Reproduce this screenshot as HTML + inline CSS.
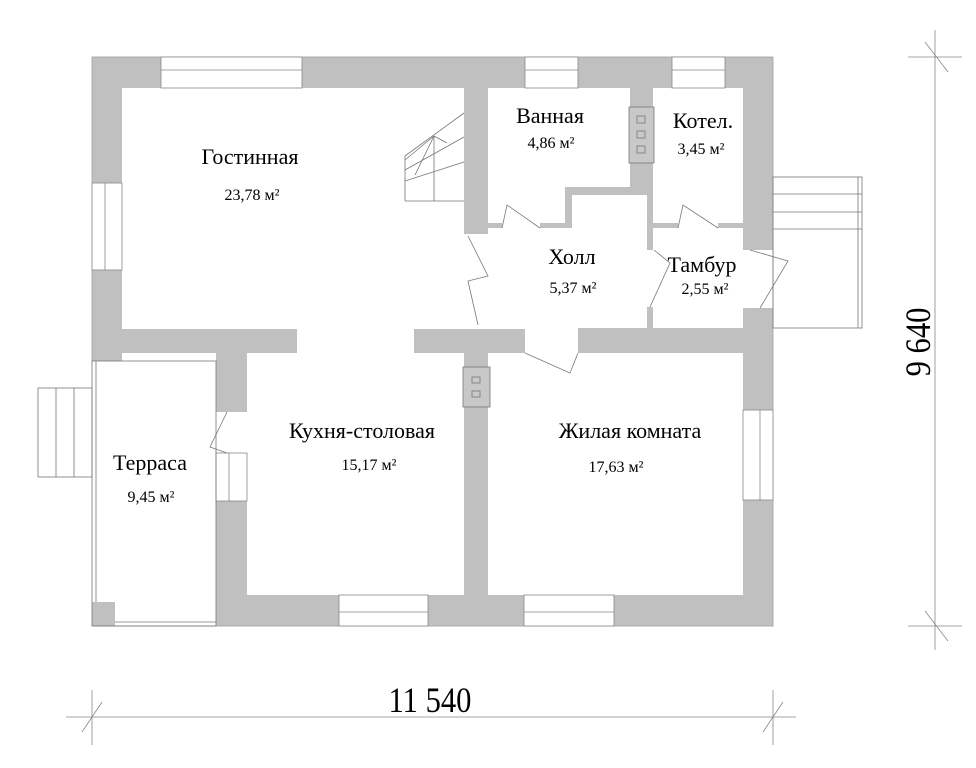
<!DOCTYPE html>
<html><head><meta charset="utf-8"><style>
html,body{margin:0;padding:0;background:#fff}
svg{display:block}
text{font-family:"Liberation Serif",serif;fill:#000}
</style></head><body>
<svg width="976" height="768" viewBox="0 0 976 768" xmlns="http://www.w3.org/2000/svg">
<g fill="#c0c0c0" stroke="none">
<rect x="92" y="57" width="69" height="31"/>
<rect x="302" y="57" width="223" height="31"/>
<rect x="578" y="57" width="94" height="31"/>
<rect x="725" y="57" width="48" height="31"/>
<rect x="92" y="88" width="30" height="95"/>
<rect x="92" y="270" width="30" height="91"/>
<rect x="92" y="329" width="205" height="24"/>
<rect x="216" y="329" width="31" height="83"/>
<rect x="414" y="329" width="111" height="24"/>
<rect x="464" y="57" width="24" height="177"/>
<rect x="488" y="223" width="14" height="5"/>
<rect x="630" y="57" width="23" height="130"/>
<rect x="565" y="187" width="88" height="8"/>
<rect x="565" y="187" width="7" height="41"/>
<rect x="540" y="223" width="32" height="5"/>
<rect x="647" y="187" width="6" height="63"/>
<rect x="647" y="307" width="6" height="21"/>
<rect x="647" y="223" width="31" height="5"/>
<rect x="718" y="223" width="25" height="5"/>
<rect x="743" y="57" width="30" height="193"/>
<rect x="743" y="308" width="30" height="102"/>
<rect x="743" y="500" width="30" height="126"/>
<rect x="578" y="328" width="195" height="25"/>
<rect x="464" y="329" width="24" height="297"/>
<rect x="216" y="501" width="31" height="125"/>
<rect x="216" y="595" width="123" height="31"/>
<rect x="428" y="595" width="96" height="31"/>
<rect x="614" y="595" width="159" height="31"/>
<rect x="92" y="602" width="23" height="24"/>
</g>
<g fill="none" stroke="#999" stroke-width="0.7">
<polyline points="92,361 92,57 773,57 773,626 92,626"/>
</g>
<g fill="none" stroke="#777" stroke-width="0.8">
<rect x="629" y="107" width="25" height="56" fill="#c8c8c8"/>
<rect x="637" y="116" width="8" height="7"/><rect x="637" y="131" width="8" height="7"/><rect x="637" y="146" width="8" height="7"/>
<rect x="463" y="367" width="27" height="40" fill="#c8c8c8"/>
<rect x="472" y="377" width="8" height="6"/><rect x="472" y="391" width="8" height="6"/>
</g>
<g stroke="#888" stroke-width="0.8" fill="#fff">
<rect x="161" y="57" width="141" height="31"/><line x1="161" y1="70" x2="302" y2="70"/>
<rect x="525" y="57" width="53" height="31"/><line x1="525" y1="70" x2="578" y2="70"/>
<rect x="672" y="57" width="53" height="31"/><line x1="672" y1="70" x2="725" y2="70"/>
<rect x="92" y="183" width="30" height="87"/><line x1="105" y1="183" x2="105" y2="270"/>
<rect x="743" y="410" width="30" height="90"/><line x1="760" y1="410" x2="760" y2="500"/>
<rect x="216" y="453" width="31" height="48"/><line x1="229" y1="453" x2="229" y2="501"/>
<rect x="339" y="595" width="89" height="31"/><line x1="339" y1="612" x2="428" y2="612"/>
<rect x="524" y="595" width="90" height="31"/><line x1="524" y1="612" x2="614" y2="612"/>
</g>
<g fill="none" stroke="#777" stroke-width="0.8">
<rect x="92" y="361" width="124" height="265"/>
<line x1="96" y1="361" x2="96" y2="602"/>
<line x1="115" y1="622" x2="216" y2="622"/>
<rect x="38" y="388" width="54" height="89"/>
<line x1="56" y1="388" x2="56" y2="477"/><line x1="74" y1="388" x2="74" y2="477"/>
<rect x="773" y="177" width="89" height="151"/>
<line x1="773" y1="194" x2="862" y2="194"/><line x1="773" y1="212" x2="862" y2="212"/><line x1="773" y1="229" x2="862" y2="229"/>
<line x1="858" y1="177" x2="858" y2="328"/>
<polyline points="405,201 464,201"/><line x1="405" y1="156" x2="405" y2="201"/>
<line x1="434" y1="136" x2="434" y2="201"/>
<line x1="405" y1="181" x2="464" y2="162"/>
<line x1="405" y1="170" x2="464" y2="137"/>
<line x1="405" y1="156" x2="464" y2="113"/>
<line x1="405" y1="160" x2="434" y2="136"/>
<line x1="415" y1="175" x2="434" y2="136"/>
<line x1="434" y1="136" x2="447" y2="143"/>
<polyline points="468,236 488,276 468,281 478,325"/>
<polyline points="502,228 507,205 540,228"/>
<polyline points="525,353 570,373 578,353"/>
<polyline points="678,228 683,205 718,228"/>
<polyline points="654,250 670,263 650,307"/>
<polyline points="750,250 788,261 760,308"/>
<polyline points="227,412 210,447 227,453"/>
</g>
<g font-size="22" text-anchor="middle">
<text x="250" y="164">Гостинная</text>
<text x="550" y="123">Ванная</text>
<text x="703" y="128">Котел.</text>
<text x="572" y="264">Холл</text>
<text x="702" y="272">Тамбур</text>
<text x="362" y="438">Кухня-столовая</text>
<text x="630" y="438">Жилая комната</text>
<text x="150" y="470">Терраса</text>
</g>
<g font-size="16" text-anchor="middle">
<text x="252" y="200">23,78 м²</text>
<text x="551" y="148">4,86 м²</text>
<text x="701" y="154">3,45 м²</text>
<text x="573" y="293">5,37 м²</text>
<text x="705" y="294">2,55 м²</text>
<text x="369" y="470">15,17 м²</text>
<text x="616" y="472">17,63 м²</text>
<text x="151" y="502">9,45 м²</text>
</g>
<g stroke="#888" stroke-width="0.8">
<line x1="66" y1="717" x2="796" y2="717"/>
<line x1="92" y1="690" x2="92" y2="745"/><line x1="82" y1="732" x2="102" y2="702"/>
<line x1="773" y1="690" x2="773" y2="745"/><line x1="763" y1="732" x2="783" y2="702"/>
<line x1="935" y1="30" x2="935" y2="650"/>
<line x1="908" y1="57" x2="962" y2="57"/><line x1="925" y1="42" x2="948" y2="72"/>
<line x1="908" y1="626" x2="962" y2="626"/><line x1="925" y1="611" x2="948" y2="641"/>
</g>
<text x="430" y="712" font-size="36" text-anchor="middle" transform="translate(430,0) scale(0.85,1) translate(-430,0)">11 540</text>
<text x="0" y="0" font-size="36" text-anchor="middle" transform="translate(930,342) rotate(-90) scale(0.85,1)">9 640</text>
</svg>
</body></html>
